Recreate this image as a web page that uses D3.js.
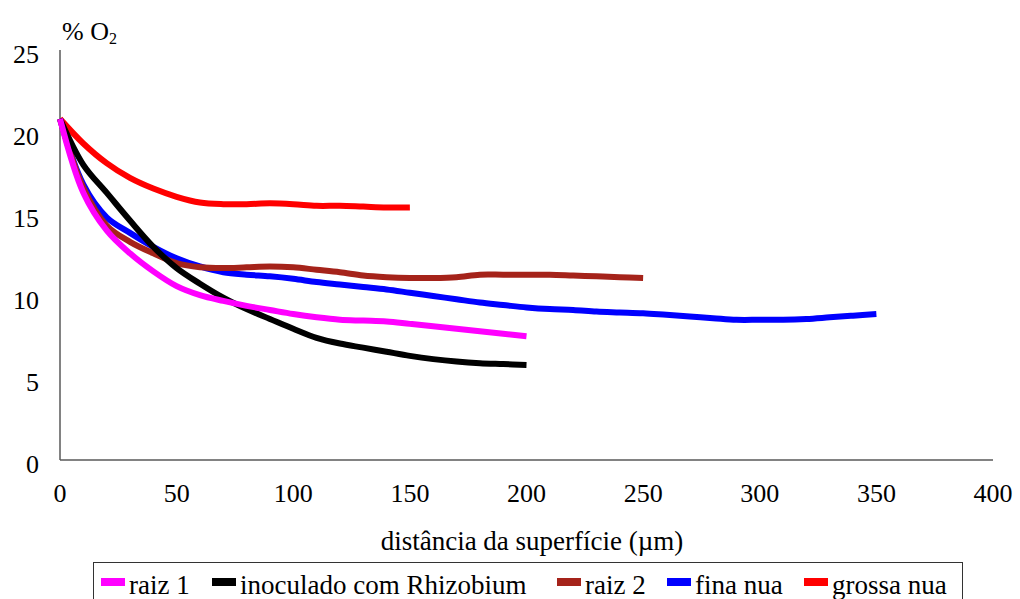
<!DOCTYPE html>
<html>
<head>
<meta charset="utf-8">
<script src="https://cdn.jsdelivr.net/npm/d3@7"></script>
<style>
  body { margin: 0; background: #fff; }
</style>
</head>
<body>
<div id="chart"></div>
<script>
// distance from the surface (µm), sampled every 10 µm
const distance = [0, 10, 20, 30, 40, 50, 60, 70, 80, 90, 100, 110, 120, 130, 140, 150,
  160, 170, 180, 190, 200, 210, 220, 230, 240, 250, 260, 270, 280, 290, 300, 310,
  320, 330, 340, 350];

const seriesNames = ['raiz 1', 'inoculado com Rhizobium', 'raiz 2', 'fina nua', 'grossa nua'];
const seriesColors = ['#ff00ff', '#000000', '#a5231a', '#0000ff', '#ff0000'];

// % O2 readings, one array per series (length = number of points measured)
const raiz1 = [20.8, 16.3, 14.0, 12.6, 11.5, 10.6, 10.05, 9.7, 9.4, 9.15, 8.9, 8.7,
  8.55, 8.5, 8.45, 8.3, 8.15, 8.0, 7.85, 7.7, 7.55];
const inoculado = [20.8, 18.0, 16.3, 14.6, 13.0, 11.7, 10.75, 9.9, 9.2, 8.6, 8.0, 7.45,
  7.1, 6.85, 6.6, 6.35, 6.15, 6.0, 5.9, 5.85, 5.8];
const raiz2 = [20.8, 16.6, 14.3, 13.3, 12.6, 12.0, 11.75, 11.7, 11.75, 11.8, 11.75, 11.6,
  11.45, 11.25, 11.15, 11.1, 11.1, 11.15, 11.3, 11.3, 11.3, 11.3, 11.25, 11.2, 11.15, 11.1];
const finaNua = [20.8, 16.8, 14.8, 13.85, 13.0, 12.3, 11.8, 11.45, 11.3, 11.2, 11.05, 10.85,
  10.7, 10.55, 10.4, 10.2, 10.0, 9.8, 9.6, 9.45, 9.3, 9.2, 9.15, 9.05, 9.0, 8.95, 8.85,
  8.75, 8.65, 8.55, 8.55, 8.55, 8.6, 8.7, 8.8, 8.9];
const grossaNua = [20.8, 19.3, 18.1, 17.2, 16.55, 16.05, 15.7, 15.6, 15.6, 15.65, 15.6,
  15.5, 15.5, 15.45, 15.4, 15.4];

const xTicks = [0, 50, 100, 150, 200, 250, 300, 350, 400];
const yTicks = [0, 5, 10, 15, 20, 25];

const width = 1020;
const height = 599;
const plot = { left: 60, right: 993, top: 50, bottom: 460 };
const serif = 'Liberation Serif';

const x = d3.scaleLinear().domain([0, 400]).range([plot.left, plot.right]);
const y = d3.scaleLinear().domain([0, 25]).range([plot.bottom, plot.top]);

const svg = d3.select('#chart')
  .append('svg')
  .attr('width', width)
  .attr('height', height);

function label(parent, tx, ty, str, anchor, size) {
  return parent.append('text')
    .attr('x', tx)
    .attr('y', ty)
    .attr('text-anchor', anchor || 'start')
    .attr('font-family', serif)
    .attr('font-size', size || 26)
    .attr('fill', '#000')
    .text(str);
}

// axes (plain lines, no tick marks)
svg.append('line')
  .attr('x1', x(0)).attr('x2', x(0))
  .attr('y1', y(25)).attr('y2', y(0))
  .attr('stroke', '#595959').attr('stroke-width', 1.5);
svg.append('line')
  .attr('x1', x(0)).attr('x2', x(400))
  .attr('y1', y(0)).attr('y2', y(0))
  .attr('stroke', '#595959').attr('stroke-width', 1.5);

yTicks.forEach(t => label(svg, 39, y(t) + 13, String(t), 'end'));
xTicks.forEach(t => label(svg, x(t), 502, String(t), 'middle'));

label(svg, 532, 550, 'distância da superfície (µm)', 'middle', 27);

// y axis title "% O2"
const yt = label(svg, 62, 40, '', 'start');
yt.append('tspan').text('% O');
yt.append('tspan').attr('dy', 4).attr('font-size', 16).text('2');

// lines
const seriesValues = [raiz1, inoculado, raiz2, finaNua, grossaNua];
const line = d3.line()
  .x((d, i) => x(distance[i]))
  .y(d => y(d))
  .curve(d3.curveCatmullRom.alpha(0.5));

const order = [4, 3, 2, 1, 0]; // first legend entry ends up on top
svg.append('g')
  .selectAll('path')
  .data(order)
  .join('path')
  .attr('d', k => line(seriesValues[k]))
  .attr('fill', 'none')
  .attr('stroke', k => seriesColors[k])
  .attr('stroke-width', 6)
  .attr('stroke-linejoin', 'round');

// legend
const lg = svg.append('g');
lg.append('rect')
  .attr('x', 93.5).attr('y', 562.5)
  .attr('width', 869).attr('height', 60)
  .attr('fill', '#fff')
  .attr('stroke', '#333').attr('stroke-width', 1);

const swatchX = [101, 212, 557, 667, 804];
seriesNames.forEach((name, i) => {
  lg.append('rect')
    .attr('x', swatchX[i]).attr('y', 578)
    .attr('width', 24).attr('height', 8)
    .attr('fill', seriesColors[i]);
  label(lg, swatchX[i] + 28, 594, name, 'start', 27);
});
</script>
</body>
</html>
